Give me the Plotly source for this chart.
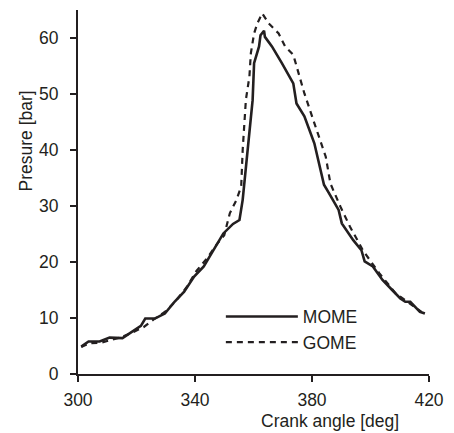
import plotly.graph_objects as go

mome_x = [301.1, 303.6, 307.4, 310.8, 315.2, 318.6, 321.5, 323.0, 326.3, 329.7, 333.0, 336.3, 339.7, 343.0, 346.3, 349.7, 353.0, 355.2, 356.3, 358.0, 359.7, 360.2, 361.9, 362.4, 363.6, 363.9, 366.3, 369.7, 372.4, 373.6, 374.7, 377.4, 380.8, 382.4, 384.1, 385.8, 389.1, 390.2, 394.1, 396.9, 398.0, 400.8, 404.1, 407.4, 410.2, 411.9, 413.6, 416.9, 418.6]
mome_y = [4.9, 5.8, 5.8, 6.5, 6.4, 7.6, 8.6, 9.9, 9.9, 10.8, 12.9, 14.7, 17.4, 19.2, 22.1, 25.1, 26.8, 27.5, 31.1, 40.0, 48.9, 55.5, 58.5, 60.5, 61.3, 60.2, 58.5, 55.5, 53.1, 51.9, 48.3, 46.0, 41.2, 37.6, 33.8, 32.3, 29.3, 26.9, 23.9, 22.1, 20.1, 19.2, 16.8, 15.0, 13.5, 12.9, 12.9, 11.1, 10.8]

gome_x = [301.1, 304.0, 308.0, 311.0, 315.0, 319.0, 322.5, 326.0, 330.0, 333.5, 337.0, 340.5, 344.0, 347.5, 350.0, 351.9, 354.1, 355.8, 356.3, 357.4, 358.6, 359.1, 360.2, 361.3, 363.0, 365.2, 368.6, 370.8, 373.6, 374.1, 377.4, 380.8, 384.7, 386.3, 389.7, 393.0, 397.4, 399.7, 403.0, 408.6, 411.9, 417.4]
gome_y = [4.8, 5.5, 5.6, 6.0, 6.6, 7.5, 8.4, 9.8, 11.2, 13.1, 15.4, 18.4, 20.6, 23.2, 24.8, 28.7, 31.0, 33.5, 40.0, 49.0, 53.1, 57.3, 60.8, 62.6, 64.4, 62.6, 60.8, 58.5, 57.0, 56.1, 50.1, 44.8, 38.8, 34.0, 29.9, 26.3, 22.1, 20.4, 18.0, 14.4, 13.2, 11.1]

x_ticks = [300, 340, 380, 420]
y_ticks = [0, 10, 20, 30, 40, 50, 60]

font = dict(family="Liberation Sans, Arial, sans-serif", size=17.5, color="#231f20")

fig = go.Figure()
fig.add_trace(go.Scatter(x=mome_x, y=mome_y, mode="lines", name="MOME",
                         line=dict(color="#231f20", width=2.6)))
fig.add_trace(go.Scatter(x=gome_x, y=gome_y, mode="lines", name="GOME",
                         line=dict(color="#231f20", width=2.2, dash="6px,5px")))

fig.update_layout(
    width=454, height=433,
    margin=dict(l=78, r=16, t=10, b=59),
    paper_bgcolor="white", plot_bgcolor="white",
    font=font,
    showlegend=True,
    legend=dict(x=0.407, y=0.122, xanchor="left", yanchor="middle",
                bgcolor="rgba(0,0,0,0)", itemwidth=72, font=font,
                tracegroupgap=0),
)
fig.update_xaxes(range=[300, 420], tickvals=x_ticks, showgrid=False, zeroline=False,
                 showline=True, linecolor="#231f20", linewidth=2,
                 ticks="outside", ticklen=6, tickwidth=2, tickcolor="#231f20",
                 tickfont=font, ticklabelstandoff=3)
fig.update_yaxes(range=[0, 65], tickvals=y_ticks, showgrid=False, zeroline=False,
                 showline=True, linecolor="#231f20", linewidth=2,
                 ticks="outside", ticklen=6, tickwidth=2, tickcolor="#231f20",
                 tickfont=font, ticklabelstandoff=8)

fig.add_annotation(text="Crank angle [deg]", xref="paper", yref="paper",
                   x=0.719, y=-0.13, xanchor="center", yanchor="middle",
                   showarrow=False, font=font)
fig.add_annotation(text="Presure [bar]", xref="paper", yref="paper",
                   x=-0.147, y=0.64, xanchor="center", yanchor="middle",
                   textangle=-90, showarrow=False, font=font)

fig.write_html("out.html", config={"displayModeBar": False},
               post_script="document.body.style.margin='0px';")
